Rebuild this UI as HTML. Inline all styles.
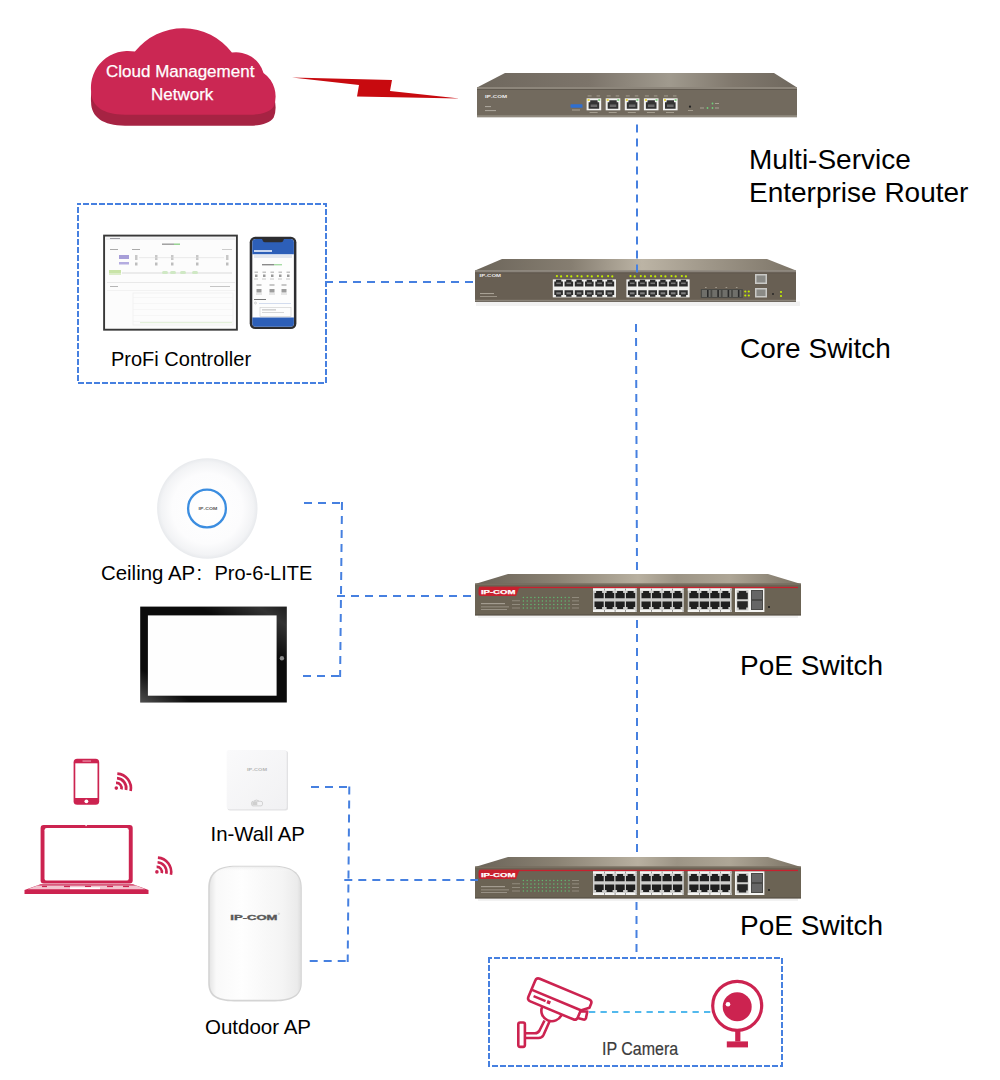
<!DOCTYPE html>
<html><head><meta charset="utf-8">
<style>
html,body{margin:0;padding:0;background:#fff;width:1000px;height:1080px;overflow:hidden}
.t{position:absolute;font-family:"Liberation Sans",sans-serif;white-space:nowrap;color:#000;line-height:1}
.b{font-size:28px}
.s{font-size:20px}
svg{position:absolute;left:0;top:0}
</style></head><body>
<svg width="1000" height="1080" viewBox="0 0 1000 1080">
<defs>
  <linearGradient id="topface" x1="0" y1="0" x2="1" y2="0">
    <stop offset="0" stop-color="#6f685e"/><stop offset="0.35" stop-color="#7c746a"/><stop offset="0.6" stop-color="#a09a8e"/><stop offset="0.8" stop-color="#80786d"/><stop offset="1" stop-color="#6f685e"/>
  </linearGradient>
  <linearGradient id="topface2" x1="0" y1="0" x2="1" y2="0">
    <stop offset="0" stop-color="#6a6358"/><stop offset="0.25" stop-color="#8a8273"/><stop offset="0.5" stop-color="#b8b0a0"/><stop offset="0.62" stop-color="#9c9485"/><stop offset="0.78" stop-color="#aea696"/><stop offset="1" stop-color="#7a7264"/>
  </linearGradient>
  <radialGradient id="ceil" cx="0.5" cy="0.5" r="0.5">
    <stop offset="0" stop-color="#ffffff"/><stop offset="0.7" stop-color="#fcfcfd"/><stop offset="0.92" stop-color="#f2f3f5"/><stop offset="1" stop-color="#e8eaed"/>
  </radialGradient>
  <linearGradient id="tabsheen" x1="0" y1="1" x2="1" y2="0">
    <stop offset="0" stop-color="#fff" stop-opacity="0.28"/><stop offset="0.18" stop-color="#fff" stop-opacity="0"/><stop offset="0.7" stop-color="#fff" stop-opacity="0"/><stop offset="0.9" stop-color="#fff" stop-opacity="0.16"/><stop offset="1" stop-color="#fff" stop-opacity="0.08"/>
  </linearGradient>
  <linearGradient id="outg" x1="0" y1="0" x2="1" y2="0">
    <stop offset="0" stop-color="#e6e6e6"/><stop offset="0.07" stop-color="#f9f9f9"/><stop offset="0.35" stop-color="#fefefe"/><stop offset="0.8" stop-color="#f4f4f4"/><stop offset="0.96" stop-color="#ebebeb"/><stop offset="1" stop-color="#dedede"/>
  </linearGradient>
  <linearGradient id="inwg" x1="0" y1="0" x2="1" y2="1">
    <stop offset="0" stop-color="#fafafb"/><stop offset="1" stop-color="#f1f1f3"/>
  </linearGradient>
  <linearGradient id="topface3" x1="0" y1="0" x2="1" y2="0">
    <stop offset="0" stop-color="#6c655a"/><stop offset="0.3" stop-color="#867e71"/><stop offset="0.52" stop-color="#bcb4a5"/><stop offset="0.72" stop-color="#a0988a"/><stop offset="1" stop-color="#7c7467"/>
  </linearGradient>
  <linearGradient id="outtop" x1="0" y1="0" x2="0" y2="1">
    <stop offset="0" stop-color="#e4e4e4" stop-opacity="0.6"/><stop offset="0.15" stop-color="#fff" stop-opacity="0"/><stop offset="1" stop-color="#fff" stop-opacity="0"/>
  </linearGradient>
</defs>
<path transform="translate(0,11)" d="M91.1,91.3 A36.8,36.8 0 0 1 134.9,51.6 A61.2,61.2 0 0 1 231.9,52.6 A28.5,28.5 0 0 1 263.5,73 A28.7,28.7 0 0 1 273.7,106.6 C270,112 262,114.7 250,114.7 L125,114.7 C103,114.7 91.1,106 91.1,91.3 Z" fill="#a62343"/>
<path d="M91.1,91.3 A36.8,36.8 0 0 1 134.9,51.6 A61.2,61.2 0 0 1 231.9,52.6 A28.5,28.5 0 0 1 263.5,73 A28.7,28.7 0 0 1 273.7,106.6 C270,112 262,114.7 250,114.7 L125,114.7 C103,114.7 91.1,106 91.1,91.3 Z" fill="#cb2753"/>
<polygon points="292,77.6 392,80 390,91 459.5,98.4 357,96.4 359,85" fill="#c80a0f"/>
<g id="router"><polygon points="505,73 774,73 797,87.5 477,87.5" fill="url(#topface)"/><rect x="477" y="87" width="320" height="30" fill="#726a5e"/><rect x="477" y="87" width="320" height="2" fill="#8d867b"/><rect x="477" y="89" width="320" height="1" fill="#615a50"/><rect x="477" y="115.2" width="320" height="1.8" fill="#918a7f"/><rect x="477" y="117" width="320" height="1" fill="#d8d6d2"/><text x="485" y="97.6" textLength="22" lengthAdjust="spacingAndGlyphs" font-family="Liberation Sans" font-weight="bold" font-size="4.2" fill="#f0f0f0" >IP-COM</text><rect x="485" y="106" width="6" height="1.1" fill="#aaa49a"/><rect x="485" y="110" width="11" height="1.1" fill="#aaa49a"/><rect x="570.5" y="104.3" width="12" height="3.4" fill="#2f6fd0" rx="0.6"/><rect x="572" y="109.5" width="8" height="1" fill="#a9a295"/><rect x="586.6" y="98.3" width="14.6" height="12" fill="#f2f2f0"/><path d="M588.60,102.30 H590.20 V100.30 H597.60 V102.30 H599.20 V108.70 H588.60 Z" fill="#333"/><rect x="590.6" y="104.5" width="6.6" height="2.5" fill="#6a6a6a"/><rect x="587.6" y="99" width="2" height="2" fill="#e8d84a"/><rect x="598.2" y="99" width="2" height="2" fill="#8cd08a"/><rect x="587.6" y="95.5" width="4" height="0.9" fill="#a9a295"/><rect x="596.6" y="95.5" width="3.5" height="0.9" fill="#a9a295"/><rect x="589.6" y="112" width="8" height="0.9" fill="#a9a295"/><rect x="605.7" y="98.3" width="14.6" height="12" fill="#f2f2f0"/><path d="M607.70,102.30 H609.30 V100.30 H616.70 V102.30 H618.30 V108.70 H607.70 Z" fill="#333"/><rect x="609.7" y="104.5" width="6.6" height="2.5" fill="#6a6a6a"/><rect x="606.7" y="99" width="2" height="2" fill="#e8d84a"/><rect x="617.3" y="99" width="2" height="2" fill="#8cd08a"/><rect x="606.7" y="95.5" width="4" height="0.9" fill="#a9a295"/><rect x="615.7" y="95.5" width="3.5" height="0.9" fill="#a9a295"/><rect x="608.7" y="112" width="8" height="0.9" fill="#a9a295"/><rect x="624.8" y="98.3" width="14.6" height="12" fill="#f2f2f0"/><path d="M626.80,102.30 H628.40 V100.30 H635.80 V102.30 H637.40 V108.70 H626.80 Z" fill="#333"/><rect x="628.8" y="104.5" width="6.6" height="2.5" fill="#6a6a6a"/><rect x="625.8" y="99" width="2" height="2" fill="#e8d84a"/><rect x="636.4" y="99" width="2" height="2" fill="#8cd08a"/><rect x="625.8" y="95.5" width="4" height="0.9" fill="#a9a295"/><rect x="634.8" y="95.5" width="3.5" height="0.9" fill="#a9a295"/><rect x="627.8" y="112" width="8" height="0.9" fill="#a9a295"/><rect x="643.9" y="98.3" width="14.6" height="12" fill="#f2f2f0"/><path d="M645.90,102.30 H647.50 V100.30 H654.90 V102.30 H656.50 V108.70 H645.90 Z" fill="#333"/><rect x="647.9" y="104.5" width="6.6" height="2.5" fill="#6a6a6a"/><rect x="644.9" y="99" width="2" height="2" fill="#e8d84a"/><rect x="655.5" y="99" width="2" height="2" fill="#8cd08a"/><rect x="644.9" y="95.5" width="4" height="0.9" fill="#a9a295"/><rect x="653.9" y="95.5" width="3.5" height="0.9" fill="#a9a295"/><rect x="646.9" y="112" width="8" height="0.9" fill="#a9a295"/><rect x="663.0" y="98.3" width="14.6" height="12" fill="#f2f2f0"/><path d="M665.00,102.30 H666.60 V100.30 H674.00 V102.30 H675.60 V108.70 H665.00 Z" fill="#333"/><rect x="667.0" y="104.5" width="6.6" height="2.5" fill="#6a6a6a"/><rect x="664.0" y="99" width="2" height="2" fill="#e8d84a"/><rect x="674.6" y="99" width="2" height="2" fill="#8cd08a"/><rect x="664.0" y="95.5" width="4" height="0.9" fill="#a9a295"/><rect x="673.0" y="95.5" width="3.5" height="0.9" fill="#a9a295"/><rect x="666.0" y="112" width="8" height="0.9" fill="#a9a295"/><circle cx="690" cy="106.7" r="1.1" fill="#222"/><rect x="688" y="110" width="5" height="0.9" fill="#a9a295"/><circle cx="712.5" cy="103.5" r="0.9" fill="#6fd07a"/><circle cx="712.5" cy="108" r="0.9" fill="#6fd07a"/><circle cx="707.5" cy="108" r="0.9" fill="#6fd07a"/><rect x="715" y="103" width="4" height="1" fill="#a9a295"/><rect x="715" y="107.5" width="4" height="1" fill="#a9a295"/><rect x="700" y="107.5" width="4" height="1" fill="#a9a295"/></g>
<g id="core"><rect x="476" y="301.5" width="324" height="4.5" fill="#f1f1f1"/><polygon points="502,259 767,259 796,270.5 475,270.5" fill="url(#topface3)"/><rect x="475" y="270.5" width="321" height="31" fill="#685f53"/><rect x="475" y="270.5" width="321" height="2" fill="#8a837a"/><rect x="475" y="272.5" width="321" height="0.8" fill="#5c554b"/><rect x="475" y="299.8" width="321" height="1.5" fill="#8a8379"/><rect x="475" y="301.3" width="321" height="0.7" fill="#5a5349"/><text x="479.5" y="277.4" textLength="21.5" lengthAdjust="spacingAndGlyphs" font-family="Liberation Sans" font-weight="bold" font-size="3.6" fill="#eeeeee" >IP-COM</text><rect x="480" y="293" width="14" height="1.1" fill="#a8a195"/><rect x="480" y="296" width="17" height="0.8" fill="#a8a195"/><rect x="552.8" y="279.4" width="63.2" height="18" fill="#efefed"/><path d="M554.30,281.60 H555.90 V279.80 H561.30 V281.60 H562.90 V286.60 H554.30 Z" fill="#2a2a2a"/><rect x="556.3" y="282.5" width="4.6" height="1.6" fill="#777"/><path d="M554.30,290.20 H562.90 V295.00 H561.30 V296.80 H555.90 V295.00 H554.30 Z" fill="#2e2e2e"/><rect x="556.3" y="292.3" width="4.6" height="2" fill="#808080"/><circle cx="556.9" cy="276.1" r="1.1" fill="#c4ee00"/><circle cx="561.1" cy="276.4" r="1.1" fill="#c4ee00"/><path d="M564.55,281.60 H566.15 V279.80 H571.55 V281.60 H573.15 V286.60 H564.55 Z" fill="#2a2a2a"/><rect x="566.5" y="282.5" width="4.6" height="1.6" fill="#777"/><path d="M564.55,290.20 H573.15 V295.00 H571.55 V296.80 H566.15 V295.00 H564.55 Z" fill="#2e2e2e"/><rect x="566.5" y="292.3" width="4.6" height="2" fill="#808080"/><circle cx="567.1" cy="276.1" r="1.1" fill="#c4ee00"/><circle cx="571.3" cy="276.4" r="1.1" fill="#c4ee00"/><path d="M574.80,281.60 H576.40 V279.80 H581.80 V281.60 H583.40 V286.60 H574.80 Z" fill="#2a2a2a"/><rect x="576.8" y="282.5" width="4.6" height="1.6" fill="#777"/><path d="M574.80,290.20 H583.40 V295.00 H581.80 V296.80 H576.40 V295.00 H574.80 Z" fill="#2e2e2e"/><rect x="576.8" y="292.3" width="4.6" height="2" fill="#808080"/><circle cx="577.4" cy="276.1" r="1.1" fill="#c4ee00"/><circle cx="581.6" cy="276.4" r="1.1" fill="#c4ee00"/><path d="M585.05,281.60 H586.65 V279.80 H592.05 V281.60 H593.65 V286.60 H585.05 Z" fill="#2a2a2a"/><rect x="587.0" y="282.5" width="4.6" height="1.6" fill="#777"/><path d="M585.05,290.20 H593.65 V295.00 H592.05 V296.80 H586.65 V295.00 H585.05 Z" fill="#2e2e2e"/><rect x="587.0" y="292.3" width="4.6" height="2" fill="#808080"/><circle cx="587.6" cy="276.1" r="1.1" fill="#c4ee00"/><circle cx="591.8" cy="276.4" r="1.1" fill="#c4ee00"/><path d="M595.30,281.60 H596.90 V279.80 H602.30 V281.60 H603.90 V286.60 H595.30 Z" fill="#2a2a2a"/><rect x="597.3" y="282.5" width="4.6" height="1.6" fill="#777"/><path d="M595.30,290.20 H603.90 V295.00 H602.30 V296.80 H596.90 V295.00 H595.30 Z" fill="#2e2e2e"/><rect x="597.3" y="292.3" width="4.6" height="2" fill="#808080"/><circle cx="597.9" cy="276.1" r="1.1" fill="#c4ee00"/><circle cx="602.1" cy="276.4" r="1.1" fill="#c4ee00"/><path d="M605.55,281.60 H607.15 V279.80 H612.55 V281.60 H614.15 V286.60 H605.55 Z" fill="#2a2a2a"/><rect x="607.5" y="282.5" width="4.6" height="1.6" fill="#777"/><path d="M605.55,290.20 H614.15 V295.00 H612.55 V296.80 H607.15 V295.00 H605.55 Z" fill="#2e2e2e"/><rect x="607.5" y="292.3" width="4.6" height="2" fill="#808080"/><circle cx="608.1" cy="276.1" r="1.1" fill="#c4ee00"/><circle cx="612.3" cy="276.4" r="1.1" fill="#c4ee00"/><rect x="626.4" y="279.4" width="63.2" height="18" fill="#efefed"/><path d="M627.90,281.60 H629.50 V279.80 H634.90 V281.60 H636.50 V286.60 H627.90 Z" fill="#2a2a2a"/><rect x="629.9" y="282.5" width="4.6" height="1.6" fill="#777"/><path d="M627.90,290.20 H636.50 V295.00 H634.90 V296.80 H629.50 V295.00 H627.90 Z" fill="#2e2e2e"/><rect x="629.9" y="292.3" width="4.6" height="2" fill="#808080"/><circle cx="630.5" cy="276.1" r="1.1" fill="#c4ee00"/><circle cx="634.7" cy="276.4" r="1.1" fill="#c4ee00"/><path d="M638.15,281.60 H639.75 V279.80 H645.15 V281.60 H646.75 V286.60 H638.15 Z" fill="#2a2a2a"/><rect x="640.1" y="282.5" width="4.6" height="1.6" fill="#777"/><path d="M638.15,290.20 H646.75 V295.00 H645.15 V296.80 H639.75 V295.00 H638.15 Z" fill="#2e2e2e"/><rect x="640.1" y="292.3" width="4.6" height="2" fill="#808080"/><circle cx="640.8" cy="276.1" r="1.1" fill="#c4ee00"/><circle cx="644.9" cy="276.4" r="1.1" fill="#c4ee00"/><path d="M648.40,281.60 H650.00 V279.80 H655.40 V281.60 H657.00 V286.60 H648.40 Z" fill="#2a2a2a"/><rect x="650.4" y="282.5" width="4.6" height="1.6" fill="#777"/><path d="M648.40,290.20 H657.00 V295.00 H655.40 V296.80 H650.00 V295.00 H648.40 Z" fill="#2e2e2e"/><rect x="650.4" y="292.3" width="4.6" height="2" fill="#808080"/><circle cx="651.0" cy="276.1" r="1.1" fill="#c4ee00"/><circle cx="655.2" cy="276.4" r="1.1" fill="#c4ee00"/><path d="M658.65,281.60 H660.25 V279.80 H665.65 V281.60 H667.25 V286.60 H658.65 Z" fill="#2a2a2a"/><rect x="660.6" y="282.5" width="4.6" height="1.6" fill="#777"/><path d="M658.65,290.20 H667.25 V295.00 H665.65 V296.80 H660.25 V295.00 H658.65 Z" fill="#2e2e2e"/><rect x="660.6" y="292.3" width="4.6" height="2" fill="#808080"/><circle cx="661.2" cy="276.1" r="1.1" fill="#c4ee00"/><circle cx="665.4" cy="276.4" r="1.1" fill="#c4ee00"/><path d="M668.90,281.60 H670.50 V279.80 H675.90 V281.60 H677.50 V286.60 H668.90 Z" fill="#2a2a2a"/><rect x="670.9" y="282.5" width="4.6" height="1.6" fill="#777"/><path d="M668.90,290.20 H677.50 V295.00 H675.90 V296.80 H670.50 V295.00 H668.90 Z" fill="#2e2e2e"/><rect x="670.9" y="292.3" width="4.6" height="2" fill="#808080"/><circle cx="671.5" cy="276.1" r="1.1" fill="#c4ee00"/><circle cx="675.7" cy="276.4" r="1.1" fill="#c4ee00"/><path d="M679.15,281.60 H680.75 V279.80 H686.15 V281.60 H687.75 V286.60 H679.15 Z" fill="#2a2a2a"/><rect x="681.1" y="282.5" width="4.6" height="1.6" fill="#777"/><path d="M679.15,290.20 H687.75 V295.00 H686.15 V296.80 H680.75 V295.00 H679.15 Z" fill="#2e2e2e"/><rect x="681.1" y="292.3" width="4.6" height="2" fill="#808080"/><circle cx="681.8" cy="276.1" r="1.1" fill="#c4ee00"/><circle cx="685.9" cy="276.4" r="1.1" fill="#c4ee00"/><rect x="700.8" y="289" width="42" height="9" fill="#4a4a46"/><rect x="702.0" y="290" width="8.5" height="7" fill="#6f6f6a"/><rect x="707.0" y="290" width="1.6" height="7" fill="#2a2a2a"/><rect x="705.0" y="287" width="1.6" height="0.9" fill="#a8a195"/><rect x="712.3" y="290" width="8.5" height="7" fill="#6f6f6a"/><rect x="717.3" y="290" width="1.6" height="7" fill="#2a2a2a"/><rect x="715.3" y="287" width="1.6" height="0.9" fill="#a8a195"/><rect x="722.6" y="290" width="8.5" height="7" fill="#6f6f6a"/><rect x="727.6" y="290" width="1.6" height="7" fill="#2a2a2a"/><rect x="725.6" y="287" width="1.6" height="0.9" fill="#a8a195"/><rect x="732.9" y="290" width="8.5" height="7" fill="#6f6f6a"/><rect x="737.9" y="290" width="1.6" height="7" fill="#2a2a2a"/><rect x="735.9" y="287" width="1.6" height="0.9" fill="#a8a195"/><circle cx="745.3" cy="291.5" r="1.1" fill="#c4ee00"/><circle cx="748.8" cy="291.5" r="1.1" fill="#c4ee00"/><circle cx="745.3" cy="295.5" r="1.1" fill="#c4ee00"/><circle cx="748.8" cy="295.5" r="1.1" fill="#c4ee00"/><rect x="755" y="274" width="12" height="10" fill="#c9c9c6"/><rect x="756.5" y="275.5" width="9" height="7" fill="#8a8a86"/><rect x="755" y="288" width="12" height="9.5" fill="#c9c9c6"/><rect x="756.5" y="289.5" width="9" height="6.5" fill="#8a8a86"/><circle cx="773" cy="294" r="0.9" fill="#222"/><circle cx="781" cy="292" r="1.1" fill="#c4ee00"/><circle cx="781" cy="296" r="1.1" fill="#c4ee00"/></g>
<g id="poe"><rect x="478" y="615.4" width="320" height="2.5" fill="#f1f1f1"/><polygon points="508,574 768,574 801,584 475,584" fill="url(#topface2)"/><rect x="475" y="583.6" width="326" height="31.8" fill="#6b6354"/><rect x="475" y="583.6" width="326" height="1.2" fill="#7a7264"/><rect x="475" y="614" width="326" height="1.4" fill="#5e574b"/><rect x="479" y="586.8" width="319" height="1.3" fill="#c8202e"/><path d="M481,586.8 L519.6,586.8 L516,596.1 L481,596.1 Q478.5,596.1 478.5,593.6 L478.5,589.3 Q478.5,586.8 481,586.8 Z" fill="#c8202e"/><text x="480.9" y="593.8" textLength="34.5" lengthAdjust="spacingAndGlyphs" font-family="Liberation Sans" font-weight="bold" font-size="6.2" fill="#ffffff" stroke="#fff" stroke-width="0.25">IP-COM</text><rect x="481" y="603" width="24" height="1.2" fill="#a39c90"/><rect x="481" y="606.5" width="28" height="0.8" fill="#a39c90"/><rect x="481" y="609" width="26" height="0.8" fill="#a39c90"/><circle cx="523.4" cy="597.4" r="0.75" fill="#62b872"/><circle cx="527.2" cy="597.4" r="0.75" fill="#62b872"/><circle cx="531.0" cy="597.4" r="0.75" fill="#62b872"/><circle cx="534.8" cy="597.4" r="0.75" fill="#62b872"/><circle cx="538.6" cy="597.4" r="0.75" fill="#62b872"/><circle cx="542.4" cy="597.4" r="0.75" fill="#62b872"/><circle cx="546.2" cy="597.4" r="0.75" fill="#62b872"/><circle cx="550.0" cy="597.4" r="0.75" fill="#62b872"/><circle cx="553.8" cy="597.4" r="0.75" fill="#62b872"/><circle cx="557.6" cy="597.4" r="0.75" fill="#62b872"/><circle cx="561.4" cy="597.4" r="0.75" fill="#62b872"/><circle cx="565.2" cy="597.4" r="0.75" fill="#62b872"/><circle cx="569.0" cy="597.4" r="0.75" fill="#62b872"/><rect x="572" y="597.0" width="7" height="0.8" fill="#9c9588"/><circle cx="523.4" cy="600.9" r="0.75" fill="#62b872"/><circle cx="527.2" cy="600.9" r="0.75" fill="#62b872"/><circle cx="531.0" cy="600.9" r="0.75" fill="#62b872"/><circle cx="534.8" cy="600.9" r="0.75" fill="#62b872"/><circle cx="538.6" cy="600.9" r="0.75" fill="#62b872"/><circle cx="542.4" cy="600.9" r="0.75" fill="#62b872"/><circle cx="546.2" cy="600.9" r="0.75" fill="#62b872"/><circle cx="550.0" cy="600.9" r="0.75" fill="#62b872"/><circle cx="553.8" cy="600.9" r="0.75" fill="#62b872"/><circle cx="557.6" cy="600.9" r="0.75" fill="#62b872"/><circle cx="561.4" cy="600.9" r="0.75" fill="#62b872"/><circle cx="565.2" cy="600.9" r="0.75" fill="#62b872"/><circle cx="569.0" cy="600.9" r="0.75" fill="#62b872"/><rect x="572" y="600.5" width="7" height="0.8" fill="#9c9588"/><circle cx="523.4" cy="604.5" r="0.75" fill="#62b872"/><circle cx="527.2" cy="604.5" r="0.75" fill="#62b872"/><circle cx="531.0" cy="604.5" r="0.75" fill="#62b872"/><circle cx="534.8" cy="604.5" r="0.75" fill="#62b872"/><circle cx="538.6" cy="604.5" r="0.75" fill="#62b872"/><circle cx="542.4" cy="604.5" r="0.75" fill="#62b872"/><circle cx="546.2" cy="604.5" r="0.75" fill="#62b872"/><circle cx="550.0" cy="604.5" r="0.75" fill="#62b872"/><circle cx="553.8" cy="604.5" r="0.75" fill="#62b872"/><circle cx="557.6" cy="604.5" r="0.75" fill="#62b872"/><circle cx="561.4" cy="604.5" r="0.75" fill="#62b872"/><circle cx="565.2" cy="604.5" r="0.75" fill="#62b872"/><circle cx="569.0" cy="604.5" r="0.75" fill="#62b872"/><rect x="572" y="604.1" width="7" height="0.8" fill="#9c9588"/><circle cx="523.4" cy="608.0" r="0.75" fill="#62b872"/><circle cx="527.2" cy="608.0" r="0.75" fill="#62b872"/><circle cx="531.0" cy="608.0" r="0.75" fill="#62b872"/><circle cx="534.8" cy="608.0" r="0.75" fill="#62b872"/><circle cx="538.6" cy="608.0" r="0.75" fill="#62b872"/><circle cx="542.4" cy="608.0" r="0.75" fill="#62b872"/><circle cx="546.2" cy="608.0" r="0.75" fill="#62b872"/><circle cx="550.0" cy="608.0" r="0.75" fill="#62b872"/><circle cx="553.8" cy="608.0" r="0.75" fill="#62b872"/><circle cx="557.6" cy="608.0" r="0.75" fill="#62b872"/><circle cx="561.4" cy="608.0" r="0.75" fill="#62b872"/><circle cx="565.2" cy="608.0" r="0.75" fill="#62b872"/><circle cx="569.0" cy="608.0" r="0.75" fill="#62b872"/><rect x="572" y="607.6" width="7" height="0.8" fill="#9c9588"/><rect x="512" y="600.4" width="8" height="0.8" fill="#9c9588"/><rect x="512" y="604.0" width="8" height="0.8" fill="#9c9588"/><rect x="512" y="607.6" width="8" height="0.8" fill="#9c9588"/><rect x="593" y="588.4" width="43.8" height="23.6" fill="#cdcdcb"/><rect x="593" y="588.4" width="43.8" height="2.2" fill="#f4f4f2"/><rect x="593" y="609.9" width="43.8" height="2.1" fill="#f4f4f2"/><path d="M594.50,592.90 H596.10 V590.90 H602.10 V592.90 H603.70 V598.30 H594.50 Z" fill="#1f1f1f"/><path d="M594.50,601.40 H603.70 V607.00 H602.10 V609.00 H596.10 V607.00 H594.50 Z" fill="#1f1f1f"/><rect x="604.2" y="588.6" width="0.8" height="1.8" fill="#777"/><rect x="604.2" y="610" width="0.8" height="1.8" fill="#777"/><path d="M605.00,592.90 H606.60 V590.90 H612.60 V592.90 H614.20 V598.30 H605.00 Z" fill="#1f1f1f"/><path d="M605.00,601.40 H614.20 V607.00 H612.60 V609.00 H606.60 V607.00 H605.00 Z" fill="#1f1f1f"/><rect x="614.7" y="588.6" width="0.8" height="1.8" fill="#777"/><rect x="614.7" y="610" width="0.8" height="1.8" fill="#777"/><path d="M615.50,592.90 H617.10 V590.90 H623.10 V592.90 H624.70 V598.30 H615.50 Z" fill="#1f1f1f"/><path d="M615.50,601.40 H624.70 V607.00 H623.10 V609.00 H617.10 V607.00 H615.50 Z" fill="#1f1f1f"/><rect x="625.2" y="588.6" width="0.8" height="1.8" fill="#777"/><rect x="625.2" y="610" width="0.8" height="1.8" fill="#777"/><path d="M626.00,592.90 H627.60 V590.90 H633.60 V592.90 H635.20 V598.30 H626.00 Z" fill="#1f1f1f"/><path d="M626.00,601.40 H635.20 V607.00 H633.60 V609.00 H627.60 V607.00 H626.00 Z" fill="#1f1f1f"/><rect x="635.7" y="588.6" width="0.8" height="1.8" fill="#777"/><rect x="635.7" y="610" width="0.8" height="1.8" fill="#777"/><rect x="640" y="588.4" width="43.8" height="23.6" fill="#cdcdcb"/><rect x="640" y="588.4" width="43.8" height="2.2" fill="#f4f4f2"/><rect x="640" y="609.9" width="43.8" height="2.1" fill="#f4f4f2"/><path d="M641.50,592.90 H643.10 V590.90 H649.10 V592.90 H650.70 V598.30 H641.50 Z" fill="#1f1f1f"/><path d="M641.50,601.40 H650.70 V607.00 H649.10 V609.00 H643.10 V607.00 H641.50 Z" fill="#1f1f1f"/><rect x="651.2" y="588.6" width="0.8" height="1.8" fill="#777"/><rect x="651.2" y="610" width="0.8" height="1.8" fill="#777"/><path d="M652.00,592.90 H653.60 V590.90 H659.60 V592.90 H661.20 V598.30 H652.00 Z" fill="#1f1f1f"/><path d="M652.00,601.40 H661.20 V607.00 H659.60 V609.00 H653.60 V607.00 H652.00 Z" fill="#1f1f1f"/><rect x="661.7" y="588.6" width="0.8" height="1.8" fill="#777"/><rect x="661.7" y="610" width="0.8" height="1.8" fill="#777"/><path d="M662.50,592.90 H664.10 V590.90 H670.10 V592.90 H671.70 V598.30 H662.50 Z" fill="#1f1f1f"/><path d="M662.50,601.40 H671.70 V607.00 H670.10 V609.00 H664.10 V607.00 H662.50 Z" fill="#1f1f1f"/><rect x="672.2" y="588.6" width="0.8" height="1.8" fill="#777"/><rect x="672.2" y="610" width="0.8" height="1.8" fill="#777"/><path d="M673.00,592.90 H674.60 V590.90 H680.60 V592.90 H682.20 V598.30 H673.00 Z" fill="#1f1f1f"/><path d="M673.00,601.40 H682.20 V607.00 H680.60 V609.00 H674.60 V607.00 H673.00 Z" fill="#1f1f1f"/><rect x="682.7" y="588.6" width="0.8" height="1.8" fill="#777"/><rect x="682.7" y="610" width="0.8" height="1.8" fill="#777"/><rect x="687.8" y="588.4" width="43.8" height="23.6" fill="#cdcdcb"/><rect x="687.8" y="588.4" width="43.8" height="2.2" fill="#f4f4f2"/><rect x="687.8" y="609.9" width="43.8" height="2.1" fill="#f4f4f2"/><path d="M689.30,592.90 H690.90 V590.90 H696.90 V592.90 H698.50 V598.30 H689.30 Z" fill="#1f1f1f"/><path d="M689.30,601.40 H698.50 V607.00 H696.90 V609.00 H690.90 V607.00 H689.30 Z" fill="#1f1f1f"/><rect x="699.0" y="588.6" width="0.8" height="1.8" fill="#777"/><rect x="699.0" y="610" width="0.8" height="1.8" fill="#777"/><path d="M699.80,592.90 H701.40 V590.90 H707.40 V592.90 H709.00 V598.30 H699.80 Z" fill="#1f1f1f"/><path d="M699.80,601.40 H709.00 V607.00 H707.40 V609.00 H701.40 V607.00 H699.80 Z" fill="#1f1f1f"/><rect x="709.5" y="588.6" width="0.8" height="1.8" fill="#777"/><rect x="709.5" y="610" width="0.8" height="1.8" fill="#777"/><path d="M710.30,592.90 H711.90 V590.90 H717.90 V592.90 H719.50 V598.30 H710.30 Z" fill="#1f1f1f"/><path d="M710.30,601.40 H719.50 V607.00 H717.90 V609.00 H711.90 V607.00 H710.30 Z" fill="#1f1f1f"/><rect x="720.0" y="588.6" width="0.8" height="1.8" fill="#777"/><rect x="720.0" y="610" width="0.8" height="1.8" fill="#777"/><path d="M720.80,592.90 H722.40 V590.90 H728.40 V592.90 H730.00 V598.30 H720.80 Z" fill="#1f1f1f"/><path d="M720.80,601.40 H730.00 V607.00 H728.40 V609.00 H722.40 V607.00 H720.80 Z" fill="#1f1f1f"/><rect x="730.5" y="588.6" width="0.8" height="1.8" fill="#777"/><rect x="730.5" y="610" width="0.8" height="1.8" fill="#777"/><rect x="735" y="588.4" width="29.4" height="23.6" fill="#f4f4f2"/><rect x="736.5" y="590" width="12" height="20.5" fill="#cfcfcd"/><path d="M737.20,592.80 H738.80 V591.00 H746.20 V592.80 H747.80 V599.20 H737.20 Z" fill="#262626"/><path d="M737.20,601.20 H747.80 V607.60 H746.20 V609.40 H738.80 V607.60 H737.20 Z" fill="#262626"/><rect x="751" y="590" width="12" height="20" fill="#4a4a48"/><rect x="752" y="591" width="10" height="8" fill="#666"/><rect x="752" y="601" width="10" height="8" fill="#666"/><circle cx="769" cy="607" r="1" fill="#1a1a1a"/></g>
<use href="#poe" transform="translate(0,283)"/>
<g id="monitor"><rect x="104.1" y="235.6" width="132.8" height="94.1" fill="#fcfcfc" stroke="#383838" stroke-width="1.9"/><rect x="106" y="237.5" width="129" height="2.5" fill="#eeeef0"/><rect x="110" y="238" width="10" height="1" fill="#9a9aa0"/><rect x="162" y="243.5" width="12" height="1.4" fill="#9a9a9a"/><rect x="174" y="243.5" width="6" height="1.4" fill="#8fd08a"/><rect x="110" y="249" width="8" height="1" fill="#aaa"/><rect x="132" y="249" width="8" height="1" fill="#aaa"/><rect x="222" y="249" width="10" height="1" fill="#ccc"/><rect x="119" y="255" width="10" height="4" fill="#a79ed8"/><rect x="119" y="262" width="10" height="2.5" fill="#b4ace0"/><rect x="135" y="255" width="2.5" height="5" fill="#c8c8c8"/><rect x="135" y="262.5" width="2.5" height="3" fill="#bdbdbd"/><rect x="155" y="255" width="2.5" height="5" fill="#c8c8c8"/><rect x="155" y="262.5" width="2.5" height="3" fill="#bdbdbd"/><rect x="171" y="255" width="2.5" height="5" fill="#c8c8c8"/><rect x="171" y="262.5" width="2.5" height="3" fill="#bdbdbd"/><rect x="196" y="255" width="2.5" height="5" fill="#c8c8c8"/><rect x="196" y="262.5" width="2.5" height="3" fill="#bdbdbd"/><rect x="226" y="255" width="2.5" height="5" fill="#c8c8c8"/><rect x="226" y="262.5" width="2.5" height="3" fill="#bdbdbd"/><rect x="139" y="257.5" width="85" height="0.6" fill="#dcdcdc"/><rect x="109" y="270" width="12" height="3" fill="#c9e4a8"/><rect x="109" y="273" width="12" height="2" fill="#dcedc8"/><rect x="122" y="272" width="110" height="2" fill="#ebebeb"/><rect x="162" y="271" width="6" height="3" fill="#cfe8c4" rx="1.5"/><rect x="170" y="271" width="6" height="3" fill="#cfe8c4" rx="1.5"/><rect x="180" y="271" width="6" height="3" fill="#cfe8c4" rx="1.5"/><rect x="192" y="271" width="6" height="3" fill="#cfe8c4" rx="1.5"/><rect x="107" y="282" width="128" height="1" fill="#e9e9e9"/><rect x="110" y="286" width="8" height="1" fill="#b5b5b5"/><rect x="210" y="286" width="20" height="1" fill="#c5c5c5"/><rect x="107" y="290" width="128" height="0.8" fill="#efefef"/><rect x="133" y="293" width="100" height="32" fill="none" stroke="#f0f0f0" stroke-width="0.8"/><rect x="133" y="297" width="100" height="0.5" fill="#f1f1f1"/><rect x="133" y="303" width="100" height="0.5" fill="#f1f1f1"/><rect x="133" y="309" width="100" height="0.5" fill="#f1f1f1"/><rect x="133" y="315" width="100" height="0.5" fill="#f1f1f1"/><rect x="133" y="321" width="100" height="0.5" fill="#f1f1f1"/><rect x="140" y="322" width="92" height="1.2" fill="#e3f0da"/></g>
<g id="mphone"><rect x="249.7" y="236.8" width="46.7" height="92.3" rx="5.5" fill="#2d2d30"/><rect x="252.3" y="239" width="41.6" height="87.8" rx="3.5" fill="#fdfdfd"/><path d="M252.3,254.3 L252.3,242.5 Q252.3,239 255.8,239 L290.4,239 Q293.9,239 293.9,242.5 L293.9,254.3 Z" fill="#2d5fb8"/><path d="M262,239 L284,239 L283,241.2 Q282.5,242.3 281,242.3 L265,242.3 Q263.5,242.3 263,241.2 Z" fill="#2d2d30"/><rect x="254" y="250" width="18" height="2" fill="#c8d6f0"/><rect x="254" y="255" width="38" height="3" fill="#e3e7ef"/><rect x="262" y="264" width="12" height="1.4" fill="#8a8a8a"/><rect x="274" y="264" width="8" height="1.4" fill="#a8dca6"/><rect x="254.5" y="271.5" width="3.5" height="1.5" fill="#c4c4c4"/><rect x="255" y="274.5" width="2.5" height="2.5" fill="#9a9a9a"/><rect x="254" y="278.5" width="4" height="1" fill="#c8c8c8"/><rect x="262.5" y="271.5" width="3.5" height="1.5" fill="#c4c4c4"/><rect x="263" y="274.5" width="2.5" height="2.5" fill="#9a9a9a"/><rect x="262" y="278.5" width="4" height="1" fill="#c8c8c8"/><rect x="270.5" y="271.5" width="3.5" height="1.5" fill="#c4c4c4"/><rect x="271" y="274.5" width="2.5" height="2.5" fill="#9a9a9a"/><rect x="270" y="278.5" width="4" height="1" fill="#c8c8c8"/><rect x="278.5" y="271.5" width="3.5" height="1.5" fill="#c4c4c4"/><rect x="279" y="274.5" width="2.5" height="2.5" fill="#9a9a9a"/><rect x="278" y="278.5" width="4" height="1" fill="#c8c8c8"/><rect x="286.5" y="271.5" width="3.5" height="1.5" fill="#c4c4c4"/><rect x="287" y="274.5" width="2.5" height="2.5" fill="#9a9a9a"/><rect x="286" y="278.5" width="4" height="1" fill="#c8c8c8"/><rect x="256.5" y="284" width="5" height="2" fill="#c8c8c8"/><rect x="256.5" y="289" width="5" height="3.5" fill="#9d9d9d"/><rect x="256" y="293.5" width="6" height="1" fill="#cfcfcf"/><rect x="269.5" y="284" width="5" height="2" fill="#c8c8c8"/><rect x="269.5" y="289" width="5" height="3.5" fill="#9d9d9d"/><rect x="269" y="293.5" width="6" height="1" fill="#cfcfcf"/><rect x="281.5" y="284" width="5" height="2" fill="#c8c8c8"/><rect x="281.5" y="289" width="5" height="3.5" fill="#9d9d9d"/><rect x="281" y="293.5" width="6" height="1" fill="#cfcfcf"/><rect x="254" y="299" width="12" height="1" fill="#777"/><circle cx="255.5" cy="303" r="1" fill="none" stroke="#aaa" stroke-width="0.5"/><rect x="259" y="303" width="32" height="0.8" fill="#c9d4ea"/><rect x="260" y="307.5" width="31" height="9" fill="none" stroke="#ccc" stroke-width="0.6"/><rect x="262" y="309.5" width="14" height="0.8" fill="#aaa"/><rect x="262" y="312" width="22" height="0.8" fill="#ccc"/><path d="M252.3,317.5 L293.9,317.5 L293.9,323.3 Q293.9,326.8 290.4,326.8 L255.8,326.8 Q252.3,326.8 252.3,323.3 Z" fill="#2d5fb8"/></g>
<circle cx="207.3" cy="508.5" r="50.2" fill="url(#ceil)"/>
<circle cx="207" cy="508.5" r="18.9" fill="none" stroke="#3b8de0" stroke-width="2.3"/>
<text x="198.6" y="510.2" textLength="18.6" lengthAdjust="spacingAndGlyphs" font-family="Liberation Sans" font-weight="bold" font-size="2.8" fill="#555" >IP-COM</text>
<rect x="140.2" y="606.6" width="146.6" height="95.9" fill="#0b0b0b"/>
<rect x="140.2" y="606.6" width="146.6" height="95.9" fill="url(#tabsheen)"/>
<rect x="147.9" y="615.4" width="128.7" height="80.3" fill="#fefefe"/>
<circle cx="281.9" cy="658.3" r="2.2" fill="#8a8a8a"/>
<rect x="73.6" y="758.8" width="25.6" height="46" rx="3.6" fill="#cc2350"/>
<rect x="75.3" y="763.3" width="22.2" height="34.7" fill="#fff"/>
<rect x="82.5" y="760.4" width="8.5" height="1.3" fill="#ea8aa3"/>
<circle cx="86.4" cy="801.3" r="1.9" fill="#fff"/>
<circle cx="116.3" cy="788.1" r="1.8" fill="#cc2350"/>
<path d="M116.02,782.81 A5.3,5.3 0 0 1 121.42,789.47" fill="none" stroke="#cc2350" stroke-width="2.7"/>
<path d="M116.99,778.22 A9.9,9.9 0 0 1 126.00,790.07" fill="none" stroke="#cc2350" stroke-width="2.7"/>
<path d="M117.32,773.54 A14.6,14.6 0 0 1 130.61,791.01" fill="none" stroke="#cc2350" stroke-width="2.7"/>
<circle cx="156.9" cy="871.9" r="1.8" fill="#cc2350"/>
<path d="M156.64,866.91 A5.0,5.0 0 0 1 161.73,873.19" fill="none" stroke="#cc2350" stroke-width="2.6"/>
<path d="M157.57,862.32 A9.6,9.6 0 0 1 166.31,873.81" fill="none" stroke="#cc2350" stroke-width="2.6"/>
<path d="M157.90,857.63 A14.3,14.3 0 0 1 170.91,874.75" fill="none" stroke="#cc2350" stroke-width="2.6"/>
<rect x="40.6" y="824.9" width="92.1" height="58.6" rx="3" fill="#cc2350"/>
<rect x="44.5" y="828.1" width="84.3" height="52.5" rx="2.2" fill="#fff"/>
<polygon points="40.5,884.2 133,884.2 148.5,890 148.5,894 24.5,894 24.5,890" fill="#cc2350"/>
<polygon points="37.5,885.6 136,885.6 145.5,889.3 27.5,889.3" fill="#f2c3cf"/>
<rect x="42" y="885.8" width="5" height="1.3" fill="#cc2350"/>
<rect x="64" y="885.8" width="6" height="1.3" fill="#cc2350"/>
<rect x="85" y="885.8" width="6" height="1.3" fill="#cc2350"/>
<rect x="107" y="885.8" width="6" height="1.3" fill="#cc2350"/>
<rect x="123" y="885.8" width="6" height="1.3" fill="#cc2350"/>
<rect x="70" y="887.3" width="30" height="1.8" fill="#fff"/>
<rect x="85.5" y="824.9" width="1.2" height="1.2" fill="#fff"/>
<rect x="227.5" y="750.8" width="60.5" height="59.8" rx="2.5" fill="#e2e2e4"/>
<rect x="226.7" y="749.9" width="60" height="59.3" rx="2.5" fill="url(#inwg)"/>
<text x="247" y="771" textLength="20" lengthAdjust="spacingAndGlyphs" font-family="Liberation Sans" font-weight="bold" font-size="3.3" fill="#b4b4b4" >IP-COM</text>
<rect x="251.5" y="801.3" width="11" height="4.6" rx="1.6" fill="none" stroke="#c4c4c4" stroke-width="0.7"/><rect x="252.3" y="802" width="5" height="3.2" fill="#cfcfcf"/><path d="M254,801 Q256.5,799 259,801" fill="none" stroke="#c4c4c4" stroke-width="0.7"/>
<path d="M236,865.7 L273,865.7 C291,865.7 301.8,872 301.8,888 L301.8,983 C301.8,996 292,1001.4 275,1001.4 L234,1001.4 C216,1001.4 208.2,996 208.2,983 L208.2,888 C208.2,872 218,865.7 236,865.7 Z" fill="#d4d4d4"/>
<path d="M236.5,866.8 L273,866.8 C290,866.8 300.8,873 300.8,888.5 L300.8,982.5 C300.8,995 291.5,999.8 275,999.8 L234,999.8 C217,999.8 209.8,995 209.8,982.5 L209.8,888.5 C209.8,873 219,866.8 236.5,866.8 Z" fill="url(#outg)"/>
<path d="M236.5,866.8 L273,866.8 C290,866.8 300.8,873 300.8,888.5 L300.8,900 L209.8,900 L209.8,888.5 C209.8,873 219,866.8 236.5,866.8 Z" fill="url(#outtop)"/>
<text x="230.3" y="919.6" textLength="47.2" lengthAdjust="spacingAndGlyphs" font-family="Liberation Sans" font-weight="bold" font-size="7.6" fill="#585858" stroke="#585858" stroke-width="0.35">IP-COM</text>
<circle cx="278.8" cy="913.8" r="0.8" fill="none" stroke="#888" stroke-width="0.3"/>
<g fill="none" stroke="#cc2350" stroke-width="2.6" stroke-linejoin="round"><g transform="translate(537,977.6) rotate(22.7)"><path d="M3,0 H56.5 Q60,0 60,3.5 V7.5 L53,13.5 V21 Q53,24.5 49.5,24.5 H3 Q-0.5,24.5 -0.5,21 V3.5 Q-0.5,0 3,0 Z"/><path d="M-0.5,13.2 H53"/><path d="M53,14.5 L59.5,11.8 L60.8,18.5 Q61,20.5 59,20.8 L53,21.5"/><path d="M16,24.8 A10.5,10.5 0 0 0 37,24.8"/><rect x="4" y="17.2" width="13" height="2.4" fill="#cc2350" stroke="none"/><rect x="18.5" y="16.6" width="3.6" height="3.4" fill="#cc2350" stroke="none"/></g><rect x="518.3" y="1022.5" width="6.6" height="24.4" rx="1.8"/><path d="M544.5,1020.5 L539.5,1030.5 Q538,1033.2 535,1033.2 L525,1033.2"/><path d="M549.5,1021.5 L543.5,1035 Q542,1038 538.5,1038 L525,1038"/></g>
<circle cx="737.2" cy="1005.8" r="24.5" fill="none" stroke="#cc2350" stroke-width="3.2"/>
<circle cx="737.2" cy="1006.8" r="14.5" fill="#cc2350"/>
<circle cx="728" cy="1004.2" r="2.3" fill="#fff"/>
<rect x="735.2" y="1030.5" width="5.2" height="11" fill="#cc2350"/>
<rect x="726.8" y="1041.4" width="21.2" height="6" fill="#cc2350"/>
<line x1="589" y1="1012" x2="711" y2="1012" stroke="#1aa3e8" stroke-width="1.6" stroke-dasharray="6.3 5.2"/>
<g stroke="#4680e0" stroke-width="2" fill="none" stroke-dasharray="8 6"><line x1="637" y1="124.4" x2="637" y2="272.4"/><line x1="636" y1="324" x2="637" y2="572"/><line x1="637" y1="620" x2="637" y2="857"/><line x1="636.5" y1="902" x2="636.5" y2="957"/><line x1="325" y1="282" x2="473" y2="282"/><line x1="304" y1="503" x2="343" y2="503"/><line x1="342" y1="502" x2="340.1" y2="677"/><line x1="303" y1="676" x2="341" y2="676"/><line x1="337" y1="596" x2="471" y2="596"/><line x1="311" y1="787" x2="350" y2="787"/><line x1="349.3" y1="786.5" x2="347.7" y2="962"/><line x1="309.7" y1="961" x2="349" y2="961"/><line x1="344.3" y1="880" x2="478" y2="880"/></g>
<g stroke="#4680e0" stroke-width="2" fill="none" stroke-dasharray="6 2" stroke-dashoffset="3"><rect x="78" y="204" width="248" height="179"/><rect x="489" y="958" width="293" height="108"/></g>
</svg>

<div class="t b" style="left:749px;top:145.8px">Multi-Service</div>
<div class="t b" style="left:749px;top:178.8px">Enterprise Router</div>
<div class="t b" style="left:740px;top:335px">Core Switch</div>
<div class="t b" style="left:740px;top:652px">PoE Switch</div>
<div class="t b" style="left:740px;top:911.5px">PoE Switch</div>
<div class="t s" style="left:111px;top:349px">ProFi Controller</div>
<div class="t s" style="left:101px;top:563px;font-size:20.4px">Ceiling AP</div>
<div class="t s" style="left:196.5px;top:563px">:</div>
<div class="t s" style="left:214.5px;top:563px">Pro-6-LITE</div>
<div class="t s" style="left:210.5px;top:824px;font-size:20.4px">In-Wall AP</div>
<div class="t s" style="left:205px;top:1017px;font-size:20.5px">Outdoor AP</div>
<div class="t" style="left:601.6px;top:1041px;font-size:17.5px;color:#3c3c3c;transform:scaleX(0.915);transform-origin:0 0;-webkit-text-stroke:0.2px #3c3c3c">IP Camera</div>
<div class="t" style="left:106px;top:62.6px;font-size:17px;color:#fff;-webkit-text-stroke:0.25px #fff">Cloud Management</div>
<div class="t" style="left:151px;top:85.8px;font-size:17px;color:#fff;-webkit-text-stroke:0.25px #fff">Network</div>

</body></html>
